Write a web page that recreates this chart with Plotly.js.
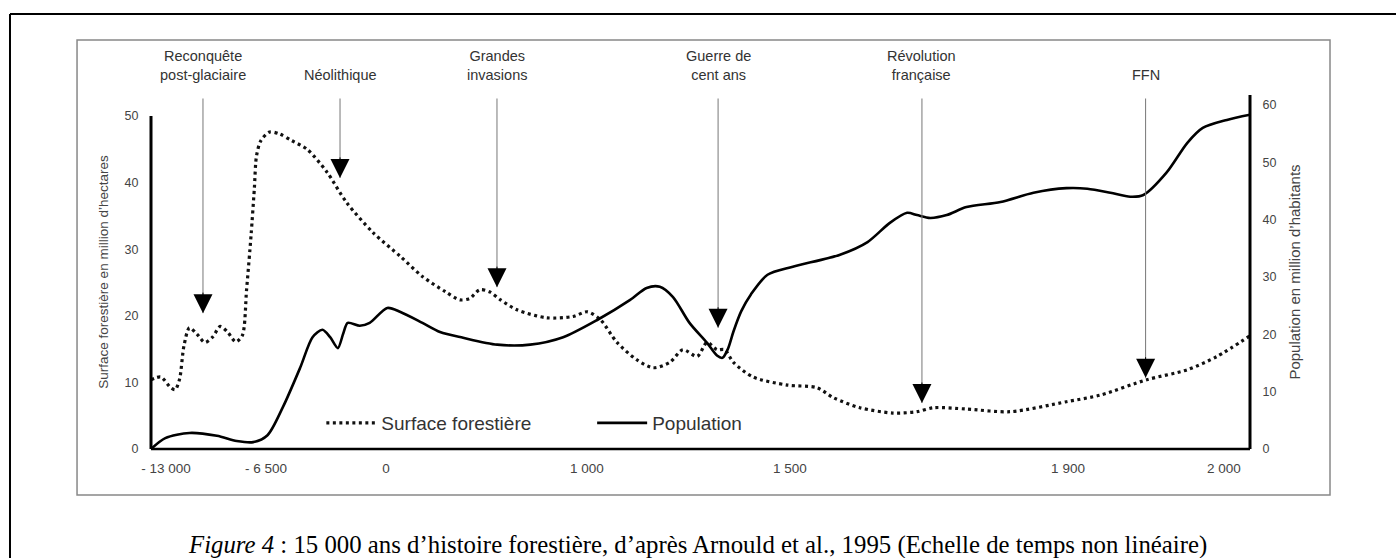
<!DOCTYPE html>
<html><head><meta charset="utf-8">
<script src="https://cdn.plot.ly/plotly-3.0.1.min.js"></script>
<style>html,body{margin:0;padding:0;background:#fff;} #chart{width:1396px;height:558px;}</style>
</head><body><div id="chart"></div>
<script>
// Non-linear time scale: positions along the timeline (0 = left end, 100 = right end)
const forestPos = [0, 0.9, 1.8, 2.2, 2.6, 3.0, 3.5, 4.2, 4.9, 5.6, 6.3, 7.0, 7.7, 8.3, 8.7, 9.1, 9.4, 9.6, 10.0, 10.8, 11.7, 12.8, 14.2, 16.0, 17.8, 20.2, 22.7, 24.7, 26.8, 28.1, 29.0, 29.9, 30.8, 31.8, 33.3, 36.0, 38.4, 39.7, 40.9, 42.4, 44.2, 45.7, 47.2, 48.4, 49.7, 50.6, 51.5, 52.2, 53.0, 54.8, 57.9, 60.6, 62.1, 64.5, 67.5, 69.7, 71.2, 74.2, 78.2, 83.3, 86.4, 90.6, 94.3, 97.0, 100];
const forestVal = [10.4, 10.8, 9.2, 8.9, 10.5, 15.5, 18.2, 17.2, 16.0, 16.8, 18.4, 17.5, 16.1, 17.0, 24, 32, 39, 44, 46.3, 47.6, 47.3, 46.3, 45, 41.6, 37, 32.5, 28.9, 25.9, 23.6, 22.4, 22.6, 23.9, 23.6, 22.4, 20.9, 19.7, 19.9, 20.6, 19.4, 16, 13.4, 12.2, 13, 14.9, 13.9, 16, 14.9, 14.9, 13, 10.8, 9.6, 9.2, 7.7, 6.2, 5.4, 5.6, 6.2, 6.0, 5.6, 7.1, 8.1, 10.4, 11.9, 13.9, 17];
const popPos = [0, 1.3, 3.5, 6.0, 7.8, 9.3, 10.6, 12.0, 13.6, 14.7, 15.6, 16.3, 17.0, 17.5, 17.9, 19.0, 19.9, 21.5, 22.7, 24.7, 26.3, 28.4, 31.5, 34.5, 37.5, 40.6, 43.6, 45.1, 46.3, 47.5, 49.0, 50.6, 51.5, 52.0, 52.5, 53.0, 53.7, 54.6, 56.1, 58.4, 62.7, 65.2, 67.2, 68.8, 69.7, 70.9, 72.4, 74.2, 77.3, 80.3, 83.3, 85.2, 87.3, 89.1, 90.3, 92.4, 94.3, 95.7, 97.9, 100];
const popVal = [0, 1.9, 2.8, 2.3, 1.4, 1.2, 2.4, 7.3, 14.3, 19.5, 20.8, 19.5, 17.6, 20.2, 22, 21.5, 22, 24.6, 23.9, 22, 20.4, 19.4, 18.2, 18.2, 19.5, 22.5, 26, 28.1, 28.3, 26.5, 22, 18.5, 16.3, 15.9, 17.5, 20.5, 24.0, 27.0, 30.4, 31.8, 33.9, 36.1, 39.4, 41.2, 40.8, 40.3, 40.8, 42.2, 43.1, 44.7, 45.5, 45.4, 44.7, 44, 44.3, 48.2, 53.4, 56, 57.4, 58.3];
const tickPos = [1.36, 10.46, 21.38, 39.67, 58.14, 83.44, 97.63];
const tickLabels = ['- 13 000', '- 6 500', '0', '1 000', '1 500', '1 900', '2 000'];
const leftTicks = [0, 10, 20, 30, 40, 50];
const rightTicks = [0, 10, 20, 30, 40, 50, 60];
const eventNames = ['Reconquête<br>post-glaciaire', 'Néolithique', 'Grandes<br>invasions', 'Guerre de<br>cent ans', 'Révolution<br>française', 'FFN'];
const eventPos = [4.73, 17.2, 31.48, 51.6, 70.15, 90.5];
const eventTip = [20.4, 40.7, 24.3, 18.2, 6.9, 10.7];

const FONT = 'Liberation Sans, Arial, sans-serif';

const traces = [
  {x: forestPos, y: forestVal, type: 'scatter', mode: 'lines', name: 'Surface forestière',
   line: {color: '#111', width: 3.2, dash: '3px,3.5px', shape: 'spline', smoothing: 0.8},
   yaxis: 'y', legend: 'legend', hoverinfo: 'skip'},
  {x: popPos, y: popVal, type: 'scatter', mode: 'lines', name: 'Population',
   line: {color: '#000', width: 2.6, shape: 'spline', smoothing: 0.8},
   yaxis: 'y2', legend: 'legend2', hoverinfo: 'skip'}
];

const annotations = [];
eventNames.forEach((n, i) => {
  annotations.push({x: eventPos[i], xref: 'x', y: 1.028, yref: 'paper', text: n, showarrow: false,
    xanchor: 'center', yanchor: 'bottom', font: {family: FONT, size: 14.5, color: '#333'}});
  annotations.push({x: eventPos[i], y: eventTip[i], xref: 'x', yref: 'y', text: '', showarrow: true,
    axref: 'x', ax: eventPos[i], ayref: 'y', ay: 52.85, arrowhead: 0, arrowwidth: 1, arrowcolor: '#777'});
  annotations.push({x: eventPos[i], y: eventTip[i], xref: 'x', yref: 'y', text: '', showarrow: true,
    ax: 0, ay: -22, arrowhead: 2, arrowsize: 3.8, arrowwidth: 1, arrowcolor: '#000'});
});
annotations.push({x: 0.4977, xref: 'paper', y: -0.2712, yref: 'paper', showarrow: false,
  text: '<i>Figure 4</i> : 15 000 ans d’histoire forestière, d’après Arnould et al., 1995 (Echelle de temps non linéaire)',
  font: {family: 'Liberation Serif, Times New Roman, serif', size: 24.8, color: '#000'}, xanchor: 'center', yanchor: 'middle'});

const shapes = [
  // outer frame
  {type: 'line', xref: 'paper', yref: 'paper', x0: -0.1283, x1: 1.3, y0: 1.2288, y1: 1.2288, line: {color: '#000', width: 2}},
  {type: 'line', xref: 'paper', yref: 'paper', x0: -0.1283, x1: -0.1283, y0: 1.2288, y1: -0.4, line: {color: '#000', width: 2}},
  // inner grey box
  {type: 'rect', xref: 'paper', yref: 'paper', x0: -0.0673, x1: 1.0728, y0: -0.1299, y1: 1.1554, line: {color: '#888', width: 1.5}},
  // axis lines
  {type: 'line', xref: 'paper', yref: 'y', x0: 0, x1: 0, y0: 0, y1: 50, line: {color: '#000', width: 3}},
  {type: 'line', xref: 'paper', yref: 'paper', x0: 1, x1: 1, y0: 0, y1: 1, line: {color: '#000', width: 3}},
  {type: 'line', xref: 'paper', yref: 'paper', x0: 0, x1: 1, y0: 0, y1: 0, line: {color: '#000', width: 2.6}}
];

const legendCommon = {orientation: 'h', yanchor: 'middle', xanchor: 'left', bgcolor: 'rgba(0,0,0,0)',
  font: {family: FONT, size: 19, color: '#333'}, itemwidth: 50};

const layout = {
  width: 1396, height: 558,
  margin: {l: 151, r: 146, t: 95, b: 109},
  paper_bgcolor: '#fff', plot_bgcolor: '#fff',
  font: {family: FONT, color: '#444'},
  xaxis: {range: [0, 100], showgrid: false, zeroline: false, showline: false,
    tickmode: 'array', tickvals: tickPos, ticktext: tickLabels,
    ticks: 'outside', ticklen: 7, tickcolor: 'rgba(0,0,0,0)', tickfont: {size: 13.5, color: '#444'}},
  yaxis: {range: [0, 53.15], showgrid: false, zeroline: false, showline: false,
    tickmode: 'array', tickvals: leftTicks, ticks: 'outside', ticklen: 9, tickcolor: 'rgba(0,0,0,0)',
    tickfont: {size: 12.5, color: '#444'},
    title: {text: 'Surface forestière en million d’hectares', font: {size: 13.5, color: '#444'}, standoff: 12}},
  yaxis2: {range: [0, 61.75], overlaying: 'y', side: 'right', showgrid: false, zeroline: false, showline: false,
    tickmode: 'array', tickvals: rightTicks, ticks: 'outside', ticklen: 9, tickcolor: 'rgba(0,0,0,0)',
    tickfont: {size: 12.5, color: '#444'},
    title: {text: 'Population en million d’habitants', font: {size: 15, color: '#444'}, standoff: 14}},
  legend: Object.assign({x: 0.155, y: 0.0734}, legendCommon),
  legend2: Object.assign({x: 0.4014, y: 0.0734}, legendCommon),
  annotations: annotations,
  shapes: shapes,
  showlegend: true
};

Plotly.newPlot('chart', traces, layout, {staticPlot: true, displayModeBar: false});
</script>
</body></html>
